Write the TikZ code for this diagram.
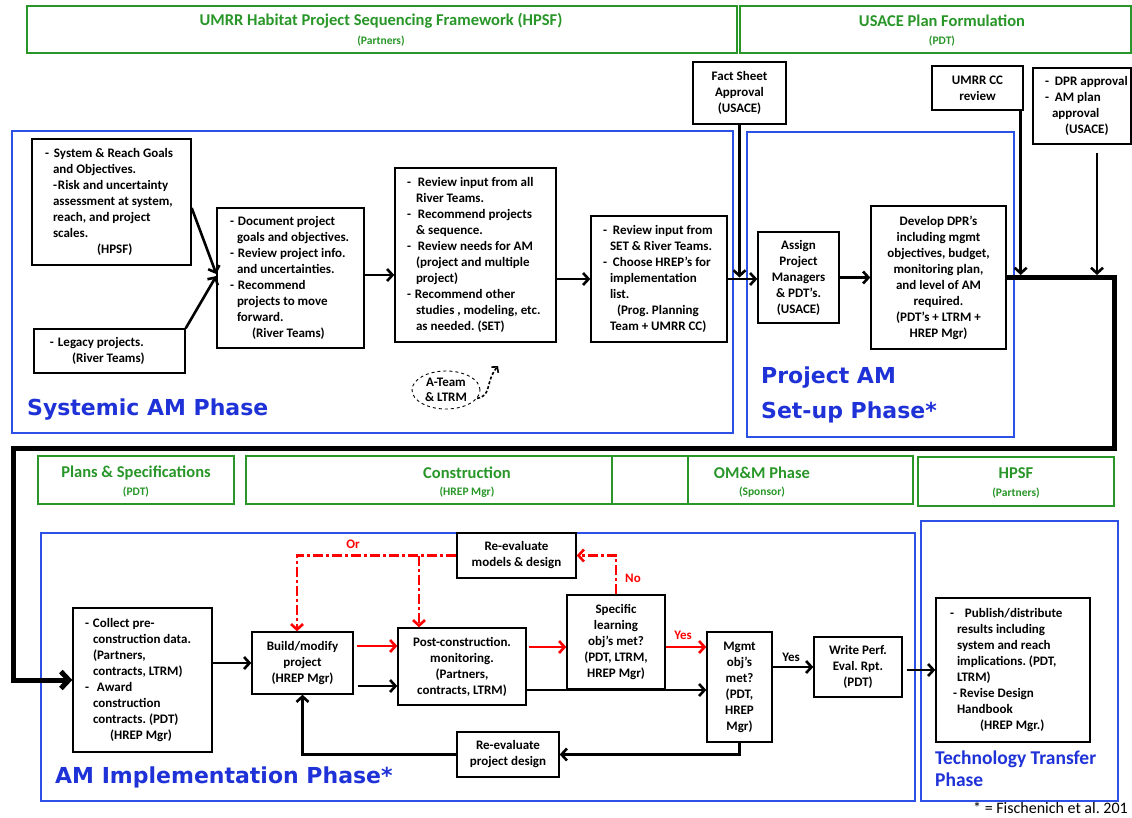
\documentclass[tikz,border=0pt]{standalone}
\usepackage{fontspec}
\setmainfont{Carlito}
\newfontfamily\phasefont{DejaVu Sans}
\usetikzlibrary{arrows.meta, shapes.geometric}
\frenchspacing

\definecolor{hgreen}{RGB}{40,150,40}
\definecolor{hblue}{RGB}{45,80,230}
\definecolor{htblue}{RGB}{30,50,215}
\definecolor{hred}{RGB}{255,0,0}

\newcommand\boxfont{\fontsize{13}{16}\selectfont\bfseries}
% left-aligned block of lines inside a box of width #1, starting #2 from its left edge
\newcommand\lcol[3]{\makebox[#1][l]{\hspace*{#2}\begin{tabular}{@{}l@{}}#3\end{tabular}}}

\tikzset{
  bx/.style={draw, line width=1.4pt, inner sep=0pt, font=\boxfont},
  bxc/.style={bx, align=center},
  arr/.style={line width=2.6pt, -{Straight Barb[length=5.5pt,width=12pt]}},
  redarr/.style={hred, line width=2.6pt, -{Straight Barb[length=5.5pt,width=12pt]}},
  reddash/.style={hred, line width=2.6pt, dash pattern=on 10pt off 3pt on 3pt off 3pt,
                  -{Straight Barb[length=5.5pt,width=12pt]}},
  mainline/.style={line width=5pt, line join=miter, -{Straight Barb[length=8pt,width=17pt]}},
  phasebox/.style={draw=hblue, line width=1.5pt},
  greenbox/.style={draw=hgreen, line width=1.8pt},
  gtitle/.style={text=hgreen, font=\fontsize{16.5}{19}\selectfont\bfseries, inner sep=0pt},
  gsub/.style={text=hgreen, font=\fontsize{11.5}{14}\selectfont\bfseries, inner sep=0pt},
  phaselabel/.style={text=htblue, font=\phasefont\fontsize{22}{35}\selectfont\bfseries,
                     inner sep=0pt, anchor=west, align=left},
  redlabel/.style={text=hred, font=\boxfont, inner sep=0pt},
}

\begin{document}
\begin{tikzpicture}[x=1pt, y=-1pt]
\fill[white] (0,0) rectangle (1132,817);
\useasboundingbox (0,0) rectangle (1132,817);

% ---------- framework headers ----------
\draw[greenbox] (27,6) rectangle (737,53);
\draw[greenbox] (740,6) rectangle (1131,53);
\node[gtitle] (hpsfT) at (381,21) {UMRR Habitat Project Sequencing Framework (HPSF)};
\node[gsub] (hpsfS) at (381,41) {(Partners)};
\node[gtitle] (usaceT) at (942,21) {USACE Plan Formulation};
\node[gsub] (usaceS) at (942,41) {(PDT)};

\draw[greenbox] (38,456) rectangle (234,504);
\draw[greenbox] (246,456) rectangle (688,504);
\draw[greenbox] (612,456) rectangle (913,504);
\draw[greenbox] (918,457) rectangle (1114,506);
\node[gtitle] (psT) at (136,473) {Plans \& Specifications};
\node[gsub] (psS) at (136,492) {(PDT)};
\node[gtitle] (conT) at (467,473) {Construction};
\node[gsub] (conS) at (467,492) {(HREP Mgr)};
\node[gtitle] (omT) at (762,473) {OM\&M Phase};
\node[gsub] (omS) at (762,492) {(Sponsor)};
\node[gtitle] (hpsf2T) at (1016,473) {HPSF};
\node[gsub] (hpsf2S) at (1016,493) {(Partners)};

% ---------- phase frames ----------
\draw[phasebox] (12,131) rectangle (733,433);
\draw[phasebox] (747,132) rectangle (1014,437);
\draw[phasebox] (41,533) rectangle (915,801);
\draw[phasebox] (921,521) rectangle (1118,801);
\node[phaselabel] (sysL) at (27,410) {Systemic AM Phase};
\node[phaselabel] (setL) at (761,394.5) {Project AM\\Set-up Phase*};
\node[phaselabel] (implL) at (55,777) {AM Implementation Phase*};
\node[phaselabel, font=\fontsize{19.5}{22}\selectfont\bfseries] (techL) at (935,769)
  {Technology Transfer\\Phase};
\node[anchor=west, inner sep=0pt, font=\fontsize{16}{18}\selectfont] (cite) at (973,808)
  {* = Fischenich et al. 201};

% ---------- systemic AM phase ----------
\node[bx, minimum width=159pt, minimum height=126pt] (goals) at (111.5,202) {\lcol{159pt}{13pt}{%
  -\hspace{5pt}System \& Reach Goals\\
  \hspace*{8pt}and Objectives.\\
  \hspace*{8pt}-\hspace{1pt}Risk and uncertainty\\
  \hspace*{8pt}assessment at system,\\
  \hspace*{8pt}reach, and project\\
  \hspace*{8pt}scales.\\
  \hspace*{52pt}(HPSF)}};

\node[bx, minimum width=151pt, minimum height=44pt] (legacy) at (109.5,351) {\lcol{151pt}{16pt}{%
  -\hspace{4pt}Legacy projects.\\
  \hspace*{22pt}(River Teams)}};

\node[bx, minimum width=147pt, minimum height=140pt] (doc) at (290.5,278) {\lcol{147pt}{13pt}{%
  -\hspace{4pt}Document project\\
  \hspace*{7pt}goals and objectives.\\
  -\hspace{4pt}Review project info.\\
  \hspace*{7pt}and uncertainties.\\
  -\hspace{4pt}Recommend\\
  \hspace*{7pt}projects to move\\
  \hspace*{7pt}forward.\\
  \hspace*{22pt}(River Teams)}};

\node[bx, minimum width=161pt, minimum height=174pt] (review) at (475.5,255) {\lcol{161pt}{12pt}{%
  -\hspace{7pt}Review input from all\\
  \hspace*{9pt}River Teams.\\
  -\hspace{7pt}Recommend projects\\
  \hspace*{9pt}\& sequence.\\
  -\hspace{7pt}Review needs for AM\\
  \hspace*{9pt}(project and multiple\\
  \hspace*{9pt}project)\\
  -\hspace{4pt}Recommend other\\
  \hspace*{9pt}studies , modeling, etc.\\
  \hspace*{9pt}as needed. (SET)}};

\node[bx, minimum width=136pt, minimum height=126pt] (choose) at (659,279) {\lcol{136pt}{12pt}{%
  -\hspace{6pt}Review input from\\
  \hspace*{7pt}SET \& River Teams.\\
  -\hspace{6pt}Choose HREP’s for\\
  \hspace*{7pt}implementation\\
  \hspace*{7pt}list.\\
  \hspace*{14pt}(Prog. Planning\\
  \hspace*{7pt}Team + UMRR CC)}};

\node[bx, ellipse, dashed, line width=0.9pt, minimum width=68pt, minimum height=38pt,
      align=center, font=\fontsize{13}{15}\selectfont\bfseries] (ateam) at (446,390)
  {A-Team\\\& LTRM};
\coordinate (ateamtip) at (498,366);

% ---------- project AM set-up phase ----------
\node[bxc, minimum width=93pt, minimum height=62pt] (fact) at (739.5,93) {Fact Sheet\\Approval\\(USACE)};
\node[bxc, minimum width=81pt, minimum height=91pt] (assign) at (798.5,277.5)
  {Assign\\Project\\Managers\\\& PDT’s.\\(USACE)};
\node[bxc, minimum width=135pt, minimum height=143pt] (dpr) at (938.5,277.5)
  {Develop DPR’s\\including mgmt\\objectives, budget,\\monitoring plan,\\and level of AM\\required.\\(PDT’s + LTRM +\\HREP Mgr)};
\node[bxc, minimum width=91pt, minimum height=44pt] (ccrev) at (977.5,88) {UMRR CC\\review};
\node[bx, minimum width=98pt, minimum height=76pt] (appr) at (1082,106) {\lcol{98pt}{12pt}{%
  -\hspace{6pt}DPR approval\\
  -\hspace{6pt}AM plan\\
  \hspace*{7pt}approval\\
  \hspace*{20pt}(USACE)}};
\coordinate (apprdrop) at (1097,153);
\coordinate (rturn) at (1114,448);
\coordinate (lturn) at (13.5,448);

% ---------- AM implementation phase ----------
\node[bx, minimum width=139pt, minimum height=144pt] (collect) at (142.5,680) {\lcol{139pt}{12pt}{%
  -\hspace{4pt}Collect pre-\\
  \hspace*{8pt}construction data.\\
  \hspace*{8pt}(Partners,\\
  \hspace*{8pt}contracts, LTRM)\\
  -\hspace{8pt}Award\\
  \hspace*{8pt}construction\\
  \hspace*{8pt}contracts. (PDT)\\
  \hspace*{25pt}(HREP Mgr)}};
\node[bxc, minimum width=101pt, minimum height=62pt] (build) at (302.5,663) {Build/modify\\project\\(HREP Mgr)};
\node[bxc, minimum width=128pt, minimum height=77pt] (post) at (462,666.5)
  {Post-construction.\\monitoring.\\(Partners,\\contracts, LTRM)};
\node[bxc, minimum width=119pt, minimum height=45pt] (models) at (516.5,555.5) {Re-evaluate\\models \& design};
\node[bxc, minimum width=98pt, minimum height=94pt] (learn) at (616,642)
  {Specific\\learning\\obj’s met?\\(PDT, LTRM,\\HREP Mgr)};
\node[bxc, minimum width=65pt, minimum height=110pt] (mgmt) at (739.5,687)
  {Mgmt\\obj’s\\met?\\(PDT,\\HREP\\Mgr)};
\node[bxc, minimum width=88pt, minimum height=60pt] (write) at (858,667) {Write Perf.\\Eval. Rpt.\\(PDT)};
\node[bxc, minimum width=102pt, minimum height=45pt] (redesign) at (508,754.5) {Re-evaluate\\project design};
\coordinate (orL) at (297,555.5);
\coordinate (orM) at (419,555.5);

% ---------- technology transfer phase ----------
\node[bx, minimum width=154pt, minimum height=144pt] (publish) at (1013,670) {\lcol{154pt}{14pt}{%
  -\hspace{11pt}Publish/distribute\\
  \hspace*{7pt}results including\\
  \hspace*{7pt}system and reach\\
  \hspace*{7pt}implications. (PDT,\\
  \hspace*{7pt}LTRM)\\
  \hspace*{3pt}-\hspace{3pt}Revise Design\\
  \hspace*{7pt}Handbook\\
  \hspace*{30pt}(HREP Mgr.)}};

% ---------- connectors: systemic and set-up ----------
\draw[arr] ([yshift=-6pt]goals.east) -- ([yshift=4pt]doc.west);
\draw[arr] (legacy.north east) -- ([yshift=2pt]doc.west);
\draw[arr] ([yshift=3pt]doc.east) -- ([yshift=3pt]doc.east -| review.west);
\draw[arr] (choose.west -| review.east) -- (choose.west);
\draw[arr] (choose.east) -- (choose.east -| assign.west);
\draw[arr] (fact.south) -- (fact.south |- assign.west);
\draw[arr] (assign.east) -- (assign.east -| dpr.west);
\draw[line width=1.6pt, densely dashed, -{Straight Barb[length=4pt,width=9pt]}]
  (ateam.-15) .. controls (492,396) and (485,382) .. (ateamtip);

% ---------- main flow into implementation ----------
\draw[mainline] (dpr.east) -| (rturn) -- (lturn) |- (collect.west);
\draw[arr, shorten >=2.5pt] ([xshift=-3pt]ccrev.south east) -- ([xshift=-3pt]ccrev.south east |- dpr.east);
\draw[arr, shorten >=2.5pt] (apprdrop) -- (apprdrop |- dpr.east);

% ---------- connectors: implementation loop ----------
\draw[arr] (build.west -| collect.east) -- (build.west);
\draw[redarr, shorten <=3pt] ([yshift=17pt]build.east) -- ([yshift=17pt]build.east -| post.west);
\draw[arr, shorten <=4pt] ([yshift=-23pt]build.east) -- ([yshift=-23pt]build.east -| post.west);
\draw[redarr, shorten <=2pt] ([yshift=19.5pt]post.east) -- ([yshift=19.5pt]post.east -| learn.west);
\draw[arr] ([yshift=-23.5pt]post.east) -- ([yshift=-23.5pt]post.east -| mgmt.west);
\draw[redarr] ([yshift=-5pt]learn.east) -- ([yshift=-5pt]learn.east -| mgmt.west);
\draw[reddash] (learn.north) |- (models.east);
\draw[reddash] (models.west) -- (orL) -- (orL |- build.north);
\draw[reddash] (orM) -- (orM |- post.north);
\draw[arr] (write.west -| mgmt.east) -- (write.west);
\draw[arr, shorten <=4pt] (publish.west -| write.east) -- (publish.west);
\draw[arr] (mgmt.south) |- (redesign.east);
\draw[arr] (redesign.west) -| (build.south);

% ---------- connector labels ----------
\node[redlabel] (orlbl) at (353,544) {Or};
\node[redlabel] (nolbl) at (633,578) {No};
\node[redlabel] (yeslbl) at (683,635) {Yes};
\node[inner sep=0pt, font=\boxfont] (yes2lbl) at (791,657) {Yes};

\end{tikzpicture}
\end{document}
